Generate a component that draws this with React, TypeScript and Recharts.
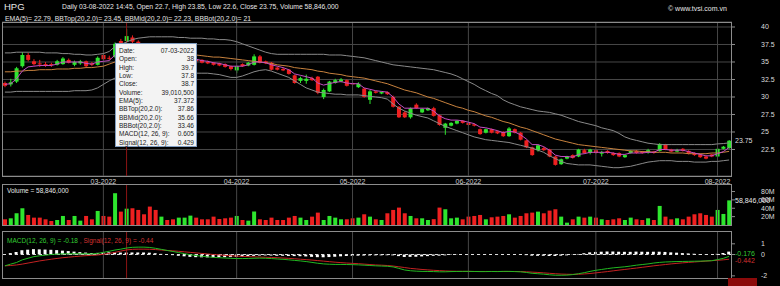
import React from 'react';
import {
  ComposedChart,
  Bar,
  Line,
  XAxis,
  YAxis,
  CartesianGrid,
  ReferenceLine,
  Cell,
} from 'recharts';

const UP = '#2ee62e';
const DOWN = '#ee2020';
const GRID = '#474747';
const FRAME = '#8c8c8c';
const CROSS = '#8b1414';
const FONT = '"Liberation Sans", Arial, sans-serif';

// Jan 28 2022 .. Aug 3 2022, one value per trading day (126)
const opens = [
  32.0, 31.8, 32.2, 34.4, 36.0, 35.1, 34.8, 34.7, 34.7, 34.6, 34.7, 35.3, 34.6, 34.8, 35.1, 34.8, 34.6, 36.0, 35.6, 35.7,
  38.0, 38.0, 38.5, 37.9, 37.2, 36.6, 36.0, 35.5, 36.0, 35.6, 35.0, 35.3, 35.4, 35.4, 35.3, 35.0, 34.9, 34.8, 34.7, 34.4,
  33.8, 34.7, 34.5, 34.6, 35.8, 35.1, 34.9, 34.2, 34.0, 33.9, 33.1, 32.3, 32.3, 32.7, 32.9, 30.0, 30.8, 32.0, 32.2, 32.4,
  32.0, 31.4, 31.2, 29.6, 30.8, 30.5, 30.7, 30.0, 28.6, 27.8, 27.1, 28.9, 27.8, 28.1, 28.4, 27.4, 25.6, 25.9, 26.2, 26.6,
  26.3, 26.1, 25.4, 24.9, 25.4, 25.1, 25.0, 24.4, 25.4, 24.9, 23.8, 22.8, 22.4, 22.7, 22.5, 21.5, 20.4, 21.2, 21.7, 21.5,
  22.4, 22.0, 22.4, 21.9, 22.3, 22.0, 22.0, 21.4, 22.0, 22.3, 22.2, 22.1, 22.2, 22.3, 23.2, 22.5, 22.2, 22.6, 22.3, 22.0,
  21.8, 21.5, 21.8, 21.5, 22.6, 22.7,
];
const highs = [
  32.2, 32.6, 34.3, 36.4, 36.3, 35.4, 35.3, 35.0, 34.9, 35.3, 35.7, 35.5, 35.2, 35.3, 35.2, 35.0, 35.8, 36.3, 35.9, 37.8,
  38.3, 39.7, 38.8, 38.1, 37.5, 36.9, 36.2, 36.2, 36.1, 35.8, 35.6, 35.8, 35.9, 35.6, 35.4, 35.2, 35.0, 34.9, 34.8, 34.5,
  34.5, 34.8, 35.0, 36.1, 36.0, 35.2, 35.0, 34.3, 34.2, 34.0, 33.2, 32.9, 33.2, 32.9, 33.0, 31.2, 32.3, 32.6, 32.7, 32.5,
  32.1, 32.1, 31.3, 31.0, 30.9, 30.8, 30.8, 30.2, 28.7, 28.0, 28.5, 29.1, 28.4, 28.5, 28.6, 27.5, 26.3, 26.4, 26.7, 26.7,
  26.4, 26.2, 25.5, 25.5, 25.5, 25.2, 25.1, 25.7, 25.5, 25.0, 23.9, 22.9, 23.2, 22.9, 22.6, 21.6, 21.2, 21.6, 21.8, 22.6,
  22.6, 22.6, 22.5, 22.3, 22.4, 22.1, 22.1, 21.8, 22.4, 22.4, 22.3, 22.6, 22.3, 23.4, 23.3, 22.6, 22.6, 22.7, 22.4, 22.1,
  21.9, 21.6, 21.9, 22.7, 23.0, 23.85,
];
const lows = [
  31.4, 31.5, 32.0, 34.2, 35.1, 34.5, 34.3, 34.3, 34.3, 34.5, 34.6, 34.8, 34.4, 34.6, 34.2, 34.4, 34.5, 35.3, 35.3, 35.6,
  37.2, 37.8, 37.7, 37.0, 36.4, 35.8, 35.3, 35.3, 35.4, 35.0, 34.9, 35.2, 35.3, 35.0, 34.8, 34.7, 34.5, 34.4, 34.2, 33.8,
  33.4, 34.3, 34.4, 34.5, 34.8, 34.7, 33.8, 33.8, 33.7, 33.2, 31.9, 32.0, 31.9, 32.3, 30.4, 29.7, 30.7, 31.9, 32.1, 31.5,
  31.7, 31.3, 29.9, 29.0, 30.5, 30.4, 30.3, 28.5, 27.0, 27.0, 26.9, 28.3, 27.7, 28.0, 27.2, 25.9, 24.6, 25.8, 26.1, 26.2,
  25.9, 25.8, 24.6, 24.8, 24.8, 24.7, 24.3, 24.3, 24.8, 23.8, 22.7, 21.6, 22.2, 22.3, 21.4, 20.2, 20.3, 21.1, 21.2, 21.4,
  21.9, 21.8, 21.9, 21.5, 21.9, 21.6, 21.4, 21.3, 21.9, 21.9, 21.9, 21.9, 21.9, 22.2, 22.4, 22.1, 22.1, 22.2, 21.8, 21.6,
  21.3, 21.1, 21.4, 21.4, 22.5, 22.6,
];
const closes = [
  31.6, 32.1, 34.1, 36.0, 35.3, 34.7, 34.7, 34.5, 34.6, 35.1, 35.5, 34.9, 35.0, 35.1, 34.4, 34.6, 35.6, 35.4, 35.5, 37.6,
  37.5, 38.7, 37.9, 37.2, 36.6, 36.0, 35.5, 36.0, 35.6, 35.2, 35.4, 35.6, 35.7, 35.1, 34.9, 34.8, 34.6, 34.5, 34.3, 34.0,
  34.4, 34.4, 34.9, 35.8, 34.9, 34.8, 33.9, 33.9, 33.8, 33.3, 32.0, 32.7, 32.6, 32.4, 30.6, 31.0, 32.2, 32.4, 32.5, 31.6,
  31.8, 31.9, 30.0, 30.8, 30.6, 30.7, 30.4, 28.6, 27.1, 27.1, 28.4, 28.4, 28.3, 28.4, 27.3, 26.0, 26.2, 26.3, 26.6, 26.3,
  26.0, 25.9, 24.7, 25.4, 24.9, 24.8, 24.4, 25.5, 24.9, 23.9, 22.8, 21.7, 23.1, 22.4, 21.5, 20.3, 21.1, 21.5, 21.3, 22.5,
  22.0, 22.5, 22.0, 22.1, 22.0, 21.7, 21.5, 21.7, 22.3, 22.0, 22.0, 22.4, 22.0, 23.3, 22.5, 22.2, 22.4, 22.3, 21.9, 21.7,
  21.4, 21.2, 21.5, 22.6, 22.9, 23.75,
];
// millions of shares
const volumesM = [
  13.6, 16, 28, 40, 24, 17.6, 17.6, 13.6, 9.6, 12, 21.6, 12, 21.6, 10.4, 21.6, 13.6, 33.6, 21.6, 20, 76,
  32, 39.0105, 40, 36, 25.6, 44, 36, 20, 12, 13.6, 17.6, 17.6, 22.4, 17.6, 13.6, 13.6, 20, 14.4, 16, 17.6,
  21.6, 12, 10.4, 32, 13.6, 12, 17.6, 12, 12, 17.6, 21.6, 17.6, 12, 20, 29.6, 12, 21.6, 17.6, 13.6, 13.6,
  16, 17.6, 25.6, 20, 13.6, 12, 28, 36, 41.6, 28, 21.6, 16, 16, 12, 14, 41.6, 37.6, 16, 17.6, 13.6,
  20, 21.6, 24, 13.6, 18.4, 20, 21.6, 25.6, 17.6, 21.6, 28, 29.6, 32, 28, 34.4, 37.6, 20, 5.6, 13.6, 20,
  17.6, 20, 17.6, 13.6, 12, 13.6, 16, 12, 17.6, 13.6, 12, 16, 12, 45.6, 20, 13.6, 16, 13.6, 20, 25.6,
  28, 24, 20, 36, 26.4, 58.846,
];
const ema5 = [
  31.8, 31.9, 32.6, 33.7, 34.3, 34.4, 34.5, 34.5, 34.5, 34.7, 35.0, 35.0, 35.0, 35.0, 34.8, 34.7, 35.0, 35.1, 35.2, 36.0,
  36.5, 37.372, 37.55, 37.4, 37.1, 36.7, 36.3, 36.2, 36.0, 35.7, 35.6, 35.6, 35.6, 35.4, 35.2, 35.1, 34.9, 34.8, 34.6, 34.4,
  34.4, 34.4, 34.6, 35.0, 35.0, 34.9, 34.6, 34.4, 34.2, 33.9, 33.3, 33.1, 32.9, 32.7, 32.0, 31.7, 31.9, 32.1, 32.2, 32.0,
  31.9, 31.9, 31.3, 31.1, 30.9, 30.8, 30.7, 30.0, 29.0, 28.4, 28.4, 28.4, 28.4, 28.4, 28.0, 27.3, 26.9, 26.7, 26.7, 26.6,
  26.4, 26.2, 25.7, 25.6, 25.4, 25.2, 24.9, 25.1, 25.0, 24.6, 24.0, 23.2, 23.2, 22.9, 22.4, 21.7, 21.5, 21.5, 21.4, 21.8,
  21.9, 22.1, 22.1, 22.1, 22.1, 22.0, 21.8, 21.8, 22.0, 22.0, 22.0, 22.1, 22.1, 22.5, 22.5, 22.4, 22.4, 22.4, 22.2, 22.0,
  21.8, 21.6, 21.6, 21.9, 22.2, 22.79,
];
const bbTop = [
  36.3, 36.3, 36.4, 36.4, 36.4, 36.4, 36.4, 36.3, 36.3, 36.3, 36.2, 36.2, 36.1, 36.1, 36.0, 36.0, 36.1, 36.2, 36.5, 37.2,
  37.5, 37.86, 38.2, 38.4, 38.5, 38.6, 38.6, 38.6, 38.6, 38.6, 38.5, 38.5, 38.4, 38.4, 38.4, 38.3, 38.3, 38.2, 38.2, 38.1,
  37.9, 37.6, 37.3, 37.0, 36.7, 36.4, 36.2, 36.1, 36.1, 36.1, 36.1, 36.1, 36.1, 36.1, 36.1, 36.1, 36.0, 36.0, 36.0, 35.9,
  35.8, 35.7, 35.6, 35.4, 35.2, 35.0, 34.8, 34.6, 34.5, 34.4, 34.3, 34.2, 34.1, 34.0, 33.9, 33.7, 33.5, 33.3, 33.0, 32.6,
  32.2, 31.8, 31.3, 30.9, 30.5, 30.2, 29.6, 29.2, 28.9, 28.6, 28.4, 28.2, 28.0, 27.9, 27.8, 27.6, 27.4, 27.1, 26.8, 26.5,
  26.3, 26.1, 25.9, 25.6, 25.4, 25.2, 24.8, 24.3, 24.0, 23.8, 23.6, 23.4, 23.3, 23.2, 23.2, 23.2, 23.2, 23.2, 23.2, 23.2,
  23.2, 23.2, 23.2, 23.3, 23.35, 23.45,
];
const bbMid = [
  33.6, 33.6, 33.7, 33.7, 33.8, 33.8, 33.9, 33.9, 33.9, 34.0, 34.0, 34.0, 34.1, 34.1, 34.2, 34.2, 34.3, 34.4, 34.7, 35.0,
  35.3, 35.66, 35.8, 35.9, 36.0, 36.05, 36.1, 36.1, 36.1, 36.1, 36.1, 36.05, 36.0, 36.0, 35.9, 35.8, 35.7, 35.7, 35.6, 35.5,
  35.4, 35.3, 35.2, 35.1, 35.0, 34.9, 34.8, 34.6, 34.5, 34.4, 34.2, 34.1, 34.0, 33.9, 33.7, 33.6, 33.4, 33.3, 33.2, 33.0,
  32.9, 32.8, 32.7, 32.5, 32.3, 32.1, 31.9, 31.6, 31.3, 31.0, 30.8, 30.6, 30.3, 30.0, 29.8, 29.5, 29.2, 28.9, 28.6, 28.4,
  28.1, 27.9, 27.6, 27.3, 27.1, 26.8, 26.5, 26.3, 26.0, 25.7, 25.5, 25.2, 24.9, 24.6, 24.3, 24.0, 23.8, 23.6, 23.4, 23.2,
  23.1, 23.0, 22.9, 22.8, 22.7, 22.6, 22.5, 22.4, 22.3, 22.3, 22.2, 22.2, 22.1, 22.1, 22.1, 22.0, 22.0, 22.0, 21.9, 21.9,
  21.9, 21.9, 22.0, 22.0, 22.1, 22.23,
];
const bbBot = [
  30.7, 30.7, 30.8, 30.8, 30.8, 30.8, 30.8, 30.8, 30.8, 30.8, 30.8, 30.8, 30.9, 30.9, 30.9, 31.0, 31.3, 31.8, 32.3, 32.7,
  33.1, 33.46, 33.5, 33.5, 33.5, 33.5, 33.5, 33.5, 33.5, 33.5, 33.5, 33.4, 33.4, 33.4, 33.4, 33.4, 33.3, 33.2, 33.0, 32.8,
  32.8, 33.0, 33.3, 33.6, 33.8, 33.9, 33.7, 33.4, 33.1, 32.8, 32.3, 31.8, 31.3, 31.0, 30.7, 30.6, 30.5, 30.4, 30.4, 30.3,
  30.3, 30.3, 30.2, 30.1, 30.0, 29.9, 29.7, 29.0, 28.4, 28.0, 27.7, 27.4, 27.2, 27.0, 26.6, 26.2, 25.8, 25.5, 25.2, 24.9,
  24.6, 24.3, 24.1, 23.9, 23.8, 23.7, 23.6, 23.5, 23.3, 23.1, 22.9, 22.7, 22.4, 22.1, 21.6, 21.2, 20.8, 20.5, 20.4, 20.3,
  20.3, 20.3, 20.2, 20.1, 20.0, 19.9, 19.9, 20.0, 20.1, 20.3, 20.5, 20.7, 20.8, 20.9, 20.9, 20.9, 20.8, 20.8, 20.8, 20.7,
  20.7, 20.7, 20.8, 20.8, 20.9, 21.0,
];
const macd = [
  -1.06, -0.9, -0.75, -0.5, -0.35, -0.2, -0.12, -0.06, 0.0, 0.04, 0.06, 0.07, 0.07, 0.07, 0.07, 0.06, 0.1, 0.2, 0.3, 0.42,
  0.5, 0.605, 0.67, 0.69, 0.69, 0.66, 0.58, 0.48, 0.38, 0.28, 0.18, 0.08, -0.02, -0.1, -0.16, -0.22, -0.27, -0.3, -0.33, -0.36,
  -0.38, -0.38, -0.37, -0.35, -0.34, -0.35, -0.38, -0.42, -0.45, -0.5, -0.55, -0.6, -0.66, -0.74, -0.82, -0.88, -0.91, -0.93, -0.93, -0.94,
  -0.95, -0.97, -1.0, -1.03, -1.06, -1.08, -1.1, -1.16, -1.3, -1.45, -1.52, -1.56, -1.58, -1.59, -1.6, -1.62, -1.62, -1.6, -1.59, -1.58,
  -1.58, -1.59, -1.6, -1.6, -1.59, -1.6, -1.58, -1.58, -1.6, -1.62, -1.68, -1.76, -1.8, -1.84, -1.9, -1.94, -1.94, -1.93, -1.88, -1.8,
  -1.7, -1.58, -1.48, -1.4, -1.32, -1.25, -1.2, -1.15, -1.08, -1.0, -0.94, -0.88, -0.8, -0.74, -0.7, -0.68, -0.66, -0.65, -0.64, -0.63,
  -0.62, -0.6, -0.58, -0.48, -0.36, -0.176,
];
const signal = [
  -1.06, -1.03, -0.98, -0.9, -0.8, -0.7, -0.6, -0.52, -0.44, -0.37, -0.3, -0.25, -0.2, -0.15, -0.11, -0.08, -0.05, 0.02, 0.1, 0.2,
  0.32, 0.429, 0.48, 0.5, 0.5, 0.49, 0.46, 0.42, 0.38, 0.34, 0.3, 0.25, 0.2, 0.15, 0.1, 0.05, 0.0, -0.04, -0.08, -0.12,
  -0.15, -0.18, -0.2, -0.22, -0.24, -0.26, -0.28, -0.3, -0.33, -0.36, -0.4, -0.44, -0.48, -0.52, -0.57, -0.62, -0.67, -0.72, -0.76, -0.8,
  -0.83, -0.86, -0.9, -0.94, -0.98, -1.0, -1.03, -1.08, -1.15, -1.22, -1.3, -1.35, -1.4, -1.44, -1.48, -1.51, -1.54, -1.56, -1.57, -1.58,
  -1.58, -1.59, -1.59, -1.59, -1.59, -1.59, -1.59, -1.59, -1.59, -1.6, -1.62, -1.65, -1.68, -1.72, -1.76, -1.8, -1.83, -1.85, -1.86, -1.85,
  -1.82, -1.78, -1.72, -1.66, -1.6, -1.53, -1.46, -1.4, -1.33, -1.27, -1.2, -1.13, -1.06, -1.0, -0.94, -0.88, -0.83, -0.78, -0.74, -0.7,
  -0.66, -0.62, -0.58, -0.54, -0.5, -0.442,
];
const hist = [
  0, 0.13, 0.23, 0.4, 0.45, 0.5, 0.48, 0.46, 0.44, 0.41, 0.36, 0.32, 0.27, 0.22, 0.18, 0.14, 0.15, 0.18, 0.2, 0.22,
  0.18, 0.18, 0.19, 0.19, 0.19, 0.17, 0.12, 0.06, 0.0, -0.06, -0.12, -0.17, -0.22, -0.25, -0.26, -0.27, -0.27, -0.26, -0.25, -0.24,
  -0.23, -0.2, -0.17, -0.13, -0.1, -0.09, -0.1, -0.12, -0.12, -0.14, -0.15, -0.16, -0.18, -0.22, -0.25, -0.26, -0.24, -0.21, -0.17, -0.14,
  -0.12, -0.11, -0.1, -0.09, -0.08, -0.08, -0.07, -0.08, -0.15, -0.23, -0.22, -0.21, -0.18, -0.15, -0.12, -0.11, -0.08, -0.04, -0.02, 0.0,
  0.0, 0.0, -0.01, -0.01, 0.0, -0.01, 0.01, 0.01, -0.01, -0.02, -0.06, -0.11, -0.12, -0.12, -0.14, -0.14, -0.11, -0.08, -0.02, 0.05,
  0.12, 0.2, 0.24, 0.26, 0.28, 0.28, 0.26, 0.25, 0.25, 0.27, 0.26, 0.25, 0.26, 0.26, 0.24, 0.2, 0.17, 0.13, 0.1, 0.07,
  0.04, 0.02, 0.0, 0.06, 0.14, 0.27,
];

const monthStarts = [17, 40, 60, 80, 102, 123];
const monthLabels = ['03-2022', '04-2022', '05-2022', '06-2022', '07-2022', '08-2022'];
const priceTicks = [22.5, 25, 27.5, 30, 32.5, 35, 37.5, 40];
const volumeTicks = [20e6, 40e6, 60e6, 80e6];
const macdTicks = [-2, 0, 1];
const crossIndex = 21;
const crossDate = '07-03-2022';
const lastDate = '03-08-2022 14:45';

const rows = closes.map((c, i) => ({
  i,
  open: opens[i],
  high: highs[i],
  low: lows[i],
  close: c,
  volume: Math.round(volumesM[i] * 1e6),
  ema5: ema5[i],
  bbTop: bbTop[i],
  bbMid: bbMid[i],
  bbBot: bbBot[i],
  macd: macd[i],
  signal: signal[i],
  hist: hist[i],
}));

const last = rows[rows.length - 1];
const cross = rows[crossIndex];
const fmtInt = (v: number) => v.toLocaleString('en-US');

const Candle = (props: any) => {
  const { x, y, width, height, payload } = props;
  if (x == null || y == null) return null;
  const color = payload.close >= payload.open ? UP : DOWN;
  const top = Math.min(y, y + height);
  const h = Math.abs(height);
  const ratio = h / (payload.high - payload.low || 0.0001);
  const bodyTop = top + (payload.high - Math.max(payload.open, payload.close)) * ratio;
  const bodyH = Math.max(Math.abs(payload.open - payload.close) * ratio, 1);
  const cx = x + width / 2;
  return (
    <g>
      <line x1={cx} x2={cx} y1={top} y2={top + h} stroke={color} strokeWidth={1} />
      <rect x={x} y={bodyTop} width={width} height={bodyH} fill={color} />
    </g>
  );
};

const axisTick = (fmt: (v: number) => string) => (p: any) => (
  <text x={761} y={p.y} dy={2.5} fill="#dcdcdc" fontSize={7} fontFamily={FONT}>
    {fmt(p.payload.value)}
  </text>
);

const sideLabel = (text: string, color: string, dy = 0) => ({
  content: (p: any) => (
    <text x={735} y={p.viewBox.y} dy={2.5 + dy} fill={color} fontSize={7} fontFamily={FONT}>
      {text}
    </text>
  ),
});

const monthLines = monthStarts.map((m) => (
  <ReferenceLine key={m} x={m} stroke={GRID} strokeWidth={1} />
));

const Frame = ({ top, height }: { top: number; height: number }) => (
  <div
    style={{
      position: 'absolute',
      left: 2,
      top,
      width: 730,
      height,
      border: `1px solid ${FRAME}`,
      boxSizing: 'border-box',
      pointerEvents: 'none',
    }}
  />
);

const txt = (left: number, top: number, size: number, color = '#e6e6e6'): React.CSSProperties => ({
  position: 'absolute',
  left,
  top,
  fontSize: size,
  lineHeight: 1,
  color,
  whiteSpace: 'nowrap',
  fontFamily: FONT,
});

const tipRows: [string, string][] = [
  ['Date:', crossDate],
  ['Open:', String(cross.open)],
  ['High:', String(cross.high)],
  ['Low:', String(cross.low)],
  ['Close:', String(cross.close)],
  ['Volume:', fmtInt(cross.volume)],
  ['EMA(5):', String(cross.ema5)],
  ['BBTop(20,2.0):', String(cross.bbTop)],
  ['BBMid(20,2.0):', String(cross.bbMid)],
  ['BBBot(20,2.0):', String(cross.bbBot)],
  ['MACD(12, 26, 9):', String(cross.macd)],
  ['Signal(12, 26, 9):', String(cross.signal)],
];

export default function App() {
  return (
    <div
      style={{
        position: 'fixed',
        left: 0,
        top: 0,
        width: 780,
        height: 286,
        background: '#000',
        overflow: 'hidden',
        fontFamily: FONT,
      }}
    >
      {/* price panel */}
      <div style={{ position: 'absolute', left: 0, top: 0 }}>
        <ComposedChart width={780} height={190} data={rows} margin={{ top: 22, right: 2, bottom: 0, left: 2 }}>
          <CartesianGrid vertical={false} stroke={GRID} />
          <XAxis
            dataKey="i"
            type="category"
            ticks={monthStarts}
            interval={0}
            height={14}
            axisLine={false}
            tickLine={false}
            tick={(p: any) => (
              <text x={p.x} y={184} textAnchor="middle" fill="#d0d0d0" fontSize={7} fontFamily={FONT}>
                {monthLabels[monthStarts.indexOf(p.payload.value)]}
              </text>
            )}
          />
          <YAxis
            orientation="right"
            width={46}
            domain={[18.714, 40.714]}
            allowDataOverflow
            ticks={priceTicks}
            interval={0}
            axisLine={false}
            tickSize={3}
            tickLine={{ stroke: FRAME }}
            tick={axisTick((v) => String(v))}
          />
          {monthLines}
          <ReferenceLine x={crossIndex} stroke={CROSS} />
          <Line dataKey="bbTop" stroke="#8a8a8a" strokeWidth={1} dot={false} isAnimationActive={false} />
          <Line dataKey="bbBot" stroke="#8a8a8a" strokeWidth={1} dot={false} isAnimationActive={false} />
          <Line dataKey="bbMid" stroke="#c8823e" strokeWidth={1} dot={false} isAnimationActive={false} />
          <Line dataKey="ema5" stroke="#c24ec2" strokeWidth={1} dot={false} isAnimationActive={false} />
          <Bar
            dataKey={(d: any) => [d.low, d.high]}
            barSize={4}
            shape={Candle}
            isAnimationActive={false}
          />
          <ReferenceLine y={last.close} stroke="none" label={sideLabel(String(last.close), '#dcdcdc')} />
        </ComposedChart>
      </div>

      {/* volume panel */}
      <div style={{ position: 'absolute', left: 0, top: 180 }}>
        <ComposedChart width={780} height={50} data={rows} margin={{ top: 4, right: 2, bottom: 5, left: 2 }}>
          <XAxis dataKey="i" type="category" hide />
          <YAxis
            orientation="right"
            width={46}
            domain={[0, 98e6]}
            allowDataOverflow
            ticks={volumeTicks}
            interval={0}
            axisLine={false}
            tickSize={3}
            tickLine={{ stroke: FRAME }}
            tick={axisTick((v) => `${v / 1e6}M`)}
          />
          {monthLines}
          <ReferenceLine x={crossIndex} stroke={CROSS} />
          <Bar dataKey="volume" barSize={4} isAnimationActive={false}>
            {rows.map((r) => (
              <Cell key={r.i} fill={r.close >= r.open ? UP : DOWN} />
            ))}
          </Bar>
          <ReferenceLine y={last.volume} stroke="none" label={sideLabel(fmtInt(last.volume), '#e6e6e6')} />
        </ComposedChart>
      </div>

      {/* MACD panel */}
      <div style={{ position: 'absolute', left: 0, top: 228 }}>
        <ComposedChart width={780} height={54} data={rows} margin={{ top: 3, right: 2, bottom: 4, left: 2 }}>
          <XAxis dataKey="i" type="category" hide />
          <YAxis
            orientation="right"
            width={46}
            domain={[-2.2, 2.2]}
            allowDataOverflow
            ticks={macdTicks}
            interval={0}
            axisLine={false}
            tickSize={3}
            tickLine={{ stroke: FRAME }}
            tick={axisTick((v) => String(v))}
          />
          {monthLines}
          <ReferenceLine x={crossIndex} stroke={CROSS} />
          <ReferenceLine y={0} stroke="#dddddd" strokeDasharray="3 3" />
          <Bar dataKey="hist" fill="#ffffff" barSize={3} isAnimationActive={false} />
          <Line dataKey="signal" stroke="#c42222" strokeWidth={1} dot={false} isAnimationActive={false} />
          <Line dataKey="macd" stroke="#22b822" strokeWidth={1} dot={false} isAnimationActive={false} />
          <ReferenceLine y={last.macd} stroke="none" label={sideLabel(String(last.macd), '#33cc33', -3)} />
          <ReferenceLine y={last.signal} stroke="none" label={sideLabel(String(last.signal), '#d03030', 1)} />
        </ComposedChart>
      </div>

      <Frame top={22} height={155} />
      <Frame top={184} height={42} />
      <Frame top={231} height={48} />

      <div style={txt(4, 2, 9.5)}>HPG</div>
      <div style={txt(62, 4, 6.8)}>
        {`Daily ${lastDate}, Open ${last.open}, High ${last.high}, Low ${last.low}, Close ${last.close}, Volume ${fmtInt(last.volume)}`}
      </div>
      <div style={txt(5, 15.5, 6.8)}>
        {`EMA(5)= ${last.ema5}, BBTop(20,2.0)= ${last.bbTop}, BBMid(20,2.0)= ${last.bbMid}, BBBot(20,2.0)= ${last.bbBot}`}
      </div>
      <div style={txt(668, 5, 7)}>© www.tvsi.com.vn</div>
      <div style={txt(7, 187.5, 6.5)}>{`Volume = ${fmtInt(last.volume)}`}</div>
      <div style={txt(7, 237.5, 6.5)}>
        <span style={{ color: '#33cc33' }}>{`MACD(12, 26, 9) = ${last.macd.toFixed(2)}`}</span>
        <span style={{ color: '#d03030' }}>{` , Signal(12, 26, 9) = ${last.signal.toFixed(2)}`}</span>
      </div>

      {/* hover readout at the crosshair */}
      <div
        style={{
          position: 'absolute',
          left: 115,
          top: 43,
          width: 82,
          height: 104,
          background: '#f3f3f3',
          border: '1px solid #7f9cbf',
          boxSizing: 'border-box',
          padding: '3px 2px 0 3px',
          fontFamily: FONT,
          fontSize: 6.5,
          color: '#222',
        }}
      >
        {tipRows.map(([k, v]) => (
          <div key={k} style={{ display: 'flex', justifyContent: 'space-between', height: 8.33, lineHeight: '8.33px' }}>
            <span>{k}</span>
            <span>{v}</span>
          </div>
        ))}
      </div>
      <div style={{ position: 'absolute', left: 728, top: 278, width: 29, height: 8, background: '#8b0a0a' }} />
    </div>
  );
}
